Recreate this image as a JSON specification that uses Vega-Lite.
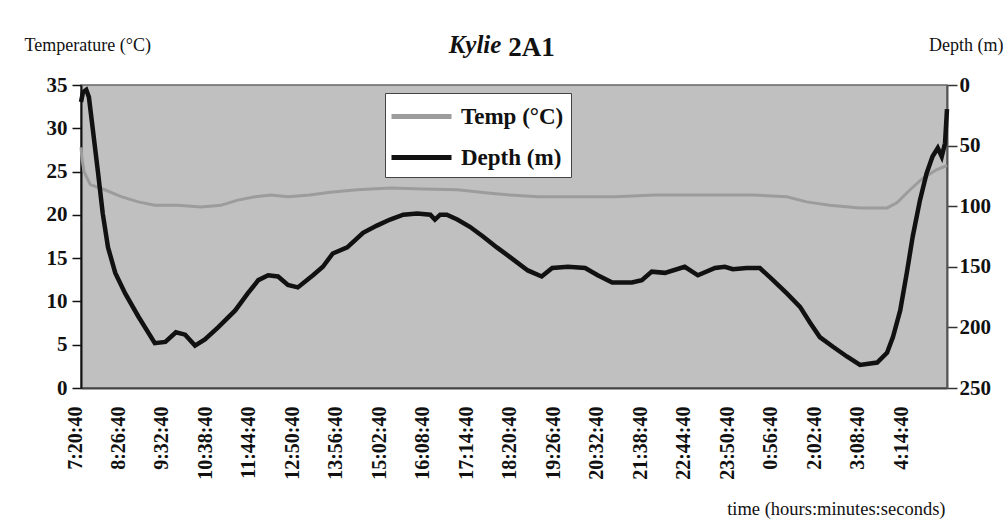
{
  "$schema": "https://vega.github.io/schema/vega-lite/v6.json",
  "width": 866,
  "height": 303,
  "autosize": {"type": "none"},
  "padding": {"left": 81, "top": 85, "right": 61, "bottom": 141},
  "background": "white",
  "config": {
    "font": "Liberation Serif",
    "view": {"fill": "#c0c0c0", "stroke": "#666666", "strokeWidth": 1.5},
    "axis": {"titleFont": "Liberation Serif", "labelFont": "Liberation Serif"}
  },
  "title": {
    "text": "Kylie",
    "font": "Liberation Serif",
    "fontStyle": "italic",
    "fontWeight": "bold",
    "fontSize": 25,
    "color": "#111111",
    "anchor": "middle",
    "frame": "group",
    "baseline": "alphabetic",
    "dx": -39,
    "offset": -45
  },
  "datasets": {
    "temp": [
      {"minutes": 0, "temp": 27.8},
      {"minutes": 1.5, "temp": 26.5},
      {"minutes": 4.6, "temp": 25.0},
      {"minutes": 14, "temp": 23.5},
      {"minutes": 36, "temp": 22.9},
      {"minutes": 61, "temp": 22.1},
      {"minutes": 87, "temp": 21.5},
      {"minutes": 112, "temp": 21.1},
      {"minutes": 147, "temp": 21.1},
      {"minutes": 182, "temp": 20.9},
      {"minutes": 212, "temp": 21.1},
      {"minutes": 238, "temp": 21.7},
      {"minutes": 264, "temp": 22.1},
      {"minutes": 288, "temp": 22.3},
      {"minutes": 314, "temp": 22.1},
      {"minutes": 347, "temp": 22.3},
      {"minutes": 378, "temp": 22.6},
      {"minutes": 419, "temp": 22.9},
      {"minutes": 469, "temp": 23.1},
      {"minutes": 519, "temp": 23.0},
      {"minutes": 571, "temp": 22.9},
      {"minutes": 621, "temp": 22.5},
      {"minutes": 651, "temp": 22.3},
      {"minutes": 693, "temp": 22.1},
      {"minutes": 745, "temp": 22.1},
      {"minutes": 810, "temp": 22.1},
      {"minutes": 871, "temp": 22.3},
      {"minutes": 927, "temp": 22.3},
      {"minutes": 977, "temp": 22.3},
      {"minutes": 1020, "temp": 22.3},
      {"minutes": 1071, "temp": 22.1},
      {"minutes": 1101, "temp": 21.5},
      {"minutes": 1136, "temp": 21.1},
      {"minutes": 1182, "temp": 20.8},
      {"minutes": 1223, "temp": 20.8},
      {"minutes": 1238, "temp": 21.4},
      {"minutes": 1258, "temp": 22.9},
      {"minutes": 1277, "temp": 24.2},
      {"minutes": 1298, "temp": 25.2},
      {"minutes": 1314, "temp": 25.7}
    ],
    "depth": [
      {"minutes": 0, "depth": 14},
      {"minutes": 3, "depth": 6},
      {"minutes": 8, "depth": 4},
      {"minutes": 12, "depth": 10},
      {"minutes": 18, "depth": 37},
      {"minutes": 26, "depth": 73},
      {"minutes": 33, "depth": 106},
      {"minutes": 41, "depth": 134},
      {"minutes": 52, "depth": 155},
      {"minutes": 67, "depth": 172},
      {"minutes": 87, "depth": 191},
      {"minutes": 112, "depth": 213},
      {"minutes": 128, "depth": 212},
      {"minutes": 144, "depth": 204},
      {"minutes": 158, "depth": 206},
      {"minutes": 173, "depth": 215},
      {"minutes": 188, "depth": 210},
      {"minutes": 208, "depth": 200},
      {"minutes": 234, "depth": 186},
      {"minutes": 253, "depth": 172},
      {"minutes": 269, "depth": 161},
      {"minutes": 284, "depth": 157},
      {"minutes": 299, "depth": 158},
      {"minutes": 314, "depth": 165},
      {"minutes": 329, "depth": 167},
      {"minutes": 352, "depth": 157},
      {"minutes": 367, "depth": 150},
      {"minutes": 382, "depth": 139},
      {"minutes": 404, "depth": 134},
      {"minutes": 428, "depth": 122},
      {"minutes": 449, "depth": 116},
      {"minutes": 469, "depth": 111},
      {"minutes": 489, "depth": 107},
      {"minutes": 510, "depth": 106},
      {"minutes": 530, "depth": 107},
      {"minutes": 537, "depth": 111},
      {"minutes": 545, "depth": 107},
      {"minutes": 555, "depth": 107},
      {"minutes": 571, "depth": 111},
      {"minutes": 590, "depth": 117},
      {"minutes": 610, "depth": 125},
      {"minutes": 631, "depth": 134},
      {"minutes": 651, "depth": 142},
      {"minutes": 678, "depth": 153},
      {"minutes": 699, "depth": 158},
      {"minutes": 715, "depth": 151},
      {"minutes": 739, "depth": 150},
      {"minutes": 765, "depth": 151},
      {"minutes": 784, "depth": 157},
      {"minutes": 806, "depth": 163},
      {"minutes": 836, "depth": 163},
      {"minutes": 851, "depth": 161},
      {"minutes": 866, "depth": 154},
      {"minutes": 886, "depth": 155},
      {"minutes": 916, "depth": 150},
      {"minutes": 936, "depth": 157},
      {"minutes": 962, "depth": 151},
      {"minutes": 977, "depth": 150},
      {"minutes": 989, "depth": 152},
      {"minutes": 1010, "depth": 151},
      {"minutes": 1030, "depth": 151},
      {"minutes": 1050, "depth": 161},
      {"minutes": 1071, "depth": 172},
      {"minutes": 1091, "depth": 183},
      {"minutes": 1106, "depth": 196},
      {"minutes": 1121, "depth": 208},
      {"minutes": 1141, "depth": 216},
      {"minutes": 1162, "depth": 224},
      {"minutes": 1182, "depth": 231},
      {"minutes": 1208, "depth": 229},
      {"minutes": 1223, "depth": 221},
      {"minutes": 1232, "depth": 208},
      {"minutes": 1243, "depth": 186},
      {"minutes": 1253, "depth": 155},
      {"minutes": 1262, "depth": 125},
      {"minutes": 1273, "depth": 95},
      {"minutes": 1283, "depth": 73},
      {"minutes": 1292, "depth": 59},
      {"minutes": 1300, "depth": 52},
      {"minutes": 1306, "depth": 59},
      {"minutes": 1311, "depth": 48},
      {"minutes": 1314, "depth": 20}
    ]
  },
  "layer": [
    {
      "data": {"name": "temp"},
      "mark": {"type": "line", "strokeWidth": 3},
      "encoding": {
        "x": {
          "field": "minutes",
          "type": "quantitative",
          "scale": {"domain": [0, 1314], "nice": false, "zero": false},
          "axis": {
            "orient": "bottom",
            "values": [0, 66, 132, 198, 264, 330, 396, 462, 528, 594, 660, 726, 792, 858, 924, 990, 1056, 1122, 1188, 1254],
            "labelExpr": "timeFormat(time(datetime(2000, 0, 1, 7, 20, 40)) + datum.value * 60000, '%-H:%M:%S')",
            "labelAngle": -90,
            "labelAlign": "right",
            "labelBaseline": "middle",
            "labelOffset": -6,
            "labelFont": "Liberation Serif",
            "labelFontWeight": "bold",
            "labelFontSize": 20,
            "labelColor": "#111111",
            "labelPadding": 18,
            "labelFlush": false,
            "labelOverlap": false,
            "labelBound": false,
            "ticks": false,
            "grid": false,
            "domainColor": "#444444",
            "domainWidth": 2,
            "title": "time (hours:minutes:seconds)",
            "titleFont": "Liberation Serif",
            "titleFontWeight": "normal",
            "titleFontSize": 18.5,
            "titleColor": "#111111",
            "titleX": 864,
            "titleY": 126,
            "titleAlign": "right",
            "titleBaseline": "alphabetic",
            "titleAnchor": "end"
          }
        },
        "y": {
          "field": "temp",
          "type": "quantitative",
          "scale": {"domain": [0, 35], "nice": false, "zero": true},
          "axis": {
            "orient": "left",
            "values": [0, 5, 10, 15, 20, 25, 30, 35],
            "grid": false,
            "domainColor": "#111111",
            "domainWidth": 2,
            "tickColor": "#111111",
            "tickWidth": 1.5,
            "tickSize": 9,
            "labelFont": "Liberation Serif",
            "labelFontWeight": "bold",
            "labelFontSize": 21,
            "labelColor": "#111111",
            "labelPadding": 5,
            "labelFlush": false,
            "title": "Temperature (°C)",
            "titleFont": "Liberation Serif",
            "titleFontWeight": "normal",
            "titleFontSize": 18,
            "titleColor": "#111111",
            "titleAngle": 0,
            "titleX": -57,
            "titleY": -35,
            "titleAlign": "left",
            "titleBaseline": "alphabetic"
          }
        },
        "color": {
          "datum": "Temp (°C)",
          "type": "nominal",
          "scale": {"domain": ["Temp (°C)", "Depth (m)"], "range": ["#9c9c9c", "#111111"]},
          "legend": {
            "orient": "none",
            "legendX": 304,
            "legendY": 8,
            "title": null,
            "fillColor": "white",
            "strokeColor": "#444444",
            "padding": 7,
            "symbolType": "M-2.143,0H2.143",
            "symbolSize": 784,
            "symbolStrokeWidth": 5,
            "symbolOffset": 13,
            "rowPadding": 12,
            "labelOffset": 23,
            "labelFont": "Liberation Serif",
            "labelFontWeight": "bold",
            "labelFontSize": 23,
            "labelColor": "#111111",
            "labelLimit": 300
          }
        }
      }
    },
    {
      "data": {"name": "depth"},
      "mark": {"type": "line", "strokeWidth": 4.5},
      "encoding": {
        "x": {
          "field": "minutes",
          "type": "quantitative",
          "axis": {
            "orient": "top",
            "labels": false,
            "ticks": false,
            "domain": false,
            "grid": false,
            "title": "2A1",
            "titleFont": "Liberation Serif",
            "titleFontWeight": "bold",
            "titleFontSize": 27,
            "titleColor": "#111111",
            "titleX": 450,
            "titleY": -30,
            "titleAlign": "center",
            "titleBaseline": "alphabetic"
          }
        },
        "y": {
          "field": "depth",
          "type": "quantitative",
          "scale": {"domain": [0, 250], "reverse": true, "nice": false},
          "axis": {
            "orient": "right",
            "values": [0, 50, 100, 150, 200, 250],
            "grid": false,
            "domainColor": "#555555",
            "domainWidth": 2,
            "tickColor": "#333333",
            "tickWidth": 1.5,
            "tickSize": 10,
            "labelFont": "Liberation Serif",
            "labelFontWeight": "bold",
            "labelFontSize": 21,
            "labelColor": "#111111",
            "labelPadding": 2,
            "labelFlush": false,
            "title": "Depth (m)",
            "titleFont": "Liberation Serif",
            "titleFontWeight": "normal",
            "titleFontSize": 18,
            "titleColor": "#111111",
            "titleAngle": 0,
            "titleX": 56,
            "titleY": -35,
            "titleAlign": "right",
            "titleBaseline": "alphabetic"
          }
        },
        "color": {"datum": "Depth (m)", "type": "nominal"}
      }
    }
  ],
  "resolve": {"scale": {"y": "independent"}, "axis": {"x": "independent"}}
}
